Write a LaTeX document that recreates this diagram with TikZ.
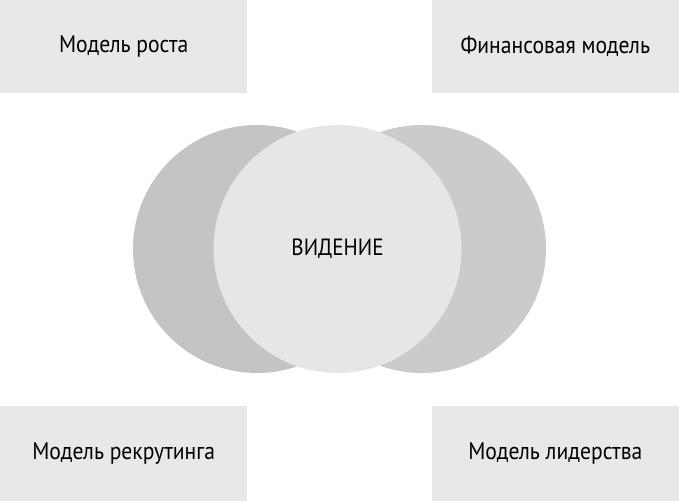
\documentclass[tikz,border=0pt]{standalone}
\usepackage{fontspec}
\setmainfont{PT Sans}[FakeStretch=0.9]
\usepackage{tikz}
\definecolor{boxgray}{HTML}{E8E8E8}
\definecolor{leftgray}{HTML}{C4C4C4}
\definecolor{rightgray}{HTML}{CBCBCB}
\definecolor{midgray}{HTML}{E6E6E6}
\tikzset{
  modelbox/.style={rectangle,fill=boxgray,minimum width=247pt,inner sep=0pt,font=\fontsize{24}{28}\selectfont},
  ring/.style={circle,minimum size=248pt,inner sep=0pt}
}

\begin{document}
\begin{tikzpicture}[x=1pt,y=-1pt]
\useasboundingbox (0,0) rectangle (679,501);
%% the four boxes
\node[modelbox,minimum height=93pt,anchor=north west] (growth) at (0,0) {Модель роста};
\node[modelbox,minimum height=93pt,anchor=north east] (finance) at (679,0) {Финансовая модель};
\node[modelbox,minimum height=95pt,anchor=south west] (recruit) at (0,501) {Модель рекрутинга};
\node[modelbox,minimum height=95pt,anchor=south east] (leader) at (679,501) {Модель лидерства};
%% the circles
\node[ring,fill=leftgray] (left) at (257,249) {};
\node[ring,fill=rightgray] (right) at (422,249) {};
\node[ring,fill=midgray,font=\fontsize{23.5}{27}\selectfont] (vision) at (337.5,249) {ВИДЕНИЕ};
\end{tikzpicture}
\end{document}
